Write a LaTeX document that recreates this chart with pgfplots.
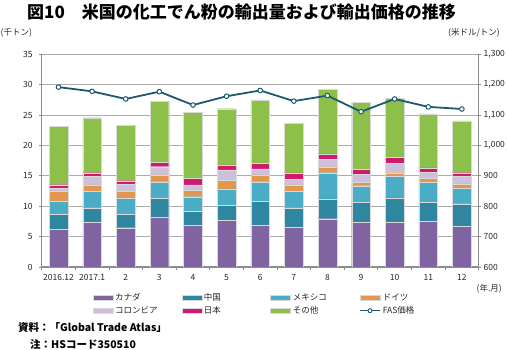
\documentclass[border=0pt]{standalone}
\usepackage{fontspec}
\setmainfont{Noto Sans CJK JP}
\usepackage{pgfplots}
\usepackage{pgfplotstable}
\pgfplotsset{compat=1.18}
\definecolor{cCan}{HTML}{8064A2}
\definecolor{cChn}{HTML}{2E86A0}
\definecolor{cMex}{HTML}{4BACC6}
\definecolor{cGer}{HTML}{E3964F}
\definecolor{cCol}{HTML}{CCC0DA}
\definecolor{cJpn}{HTML}{CF1A6E}
\definecolor{cOth}{HTML}{8DC04B}
\definecolor{cLine}{HTML}{1E5A6E}
\definecolor{cGrid}{HTML}{ABABAB}
\definecolor{cAxis}{HTML}{8C8C8C}

\pgfplotstableread{
x can chn mex ger col jpn oth
0  6.25 2.42 2.19 1.54 0.55 0.60 9.60
1  7.35 2.41 2.64 1.10 1.37 0.65 9.05
2  6.47 2.20 2.63 1.20 1.10 0.60 9.10
3  8.23 3.02 2.79 1.10 1.36 0.70 10.10
4  6.90 2.30 2.37 1.10 0.83 1.04 10.96
5  7.73 2.47 2.64 1.46 1.70 0.80 9.25
6  6.90 3.96 3.18 1.10 0.99 0.97 10.40
7  6.53 3.23 2.74 1.00 0.98 0.99 8.17
8  7.95 3.24 4.33 0.94 1.31 0.83 10.64
9  7.40 3.19 2.79 0.66 1.26 0.72 11.13
10 7.35 4.01 3.51 0.65 1.58 1.00 9.70
11 7.50 3.09 3.31 0.80 0.90 0.70 8.88
12 6.64 3.78 2.48 0.76 1.21 0.65 8.51
}\bars

\pgfplotstableread{
x fas
0  1192
1  1178
2  1153
3  1177
4  1133
5  1162
6  1181
7  1146
8  1164
9  1111
10 1153
11 1127
12 1120
}\fas

\pgfplotsset{
  common/.style={
    scale only axis, width=437bp, height=212.7bp,
    at={(0,0)}, anchor=south west,
    xmin=-0.5, xmax=12.5,
    /pgf/number format/assume math mode=true,
    tick label style={font=\fontsize{8.5bp}{10bp}\selectfont, text=black!85},
    axis line style={cAxis, line width=1.3bp},
    tick style={cAxis, line width=0.8bp},
    tick align=outside,
  },
  arealeg/.style={legend image code/.code={\fill[##1] (0bp,-2.6bp) rectangle (20bp,2.6bp);}},
  linleg/.style={legend image code/.code={\draw[##1, sharp plot, mark repeat=2, mark phase=2] plot coordinates {(0bp,0bp) (10bp,0bp) (20bp,0bp)};}},
}

\begin{document}
\begin{tikzpicture}
\useasboundingbox (-41.7bp,-83bp) rectangle (466.3bp,267bp);
\begin{axis}[common,
  ymin=0, ymax=35,
  ybar stacked, bar width=18.7bp,
  axis x line*=bottom, axis y line*=left,
  xtick={0,...,12},
  xticklabels={2016.12,2017.1,2,3,4,5,6,7,8,9,10,11,12},
  major x tick style={draw=none},
  minor xtick={-0.5,0.5,...,12.5},
  minor tick length=3bp,
  xticklabel style={yshift=-1bp},
  yticklabel style={xshift=-3bp},
  ytick={0,5,...,35},
  major tick length=2.5bp,
  ymajorgrids, grid style={cGrid, line width=0.9bp},
  every axis plot/.append style={draw=white!70!gray, line width=0.3bp},
  legend columns=4,
  legend style={at={(51bp,-24bp)}, anchor=north west, draw=none, fill=none,
    inner sep=0pt, font=\fontsize{8.5bp}{10bp}\selectfont, text=black!85,
    /tikz/every even column/.style={column sep=2bp},
    /tikz/every odd column/.style={column sep=0bp},
    row sep=0.5bp},
  legend cell align=left,
]
\addplot[fill=cCan, arealeg] table[x=x,y=can]{\bars};
\addplot[fill=cChn, arealeg] table[x=x,y=chn]{\bars};
\addplot[fill=cMex, arealeg] table[x=x,y=mex]{\bars};
\addplot[fill=cGer, arealeg] table[x=x,y=ger]{\bars};
\addplot[fill=cCol, arealeg] table[x=x,y=col]{\bars};
\addplot[fill=cJpn, arealeg] table[x=x,y=jpn]{\bars};
\addplot[fill=cOth, arealeg] table[x=x,y=oth]{\bars};
\addlegendimage{sharp plot, draw=cLine, fill=none, line width=1.6bp, mark=*, mark size=2bp, mark options={fill=white, draw=cLine, line width=0.9bp}, linleg}
\legend{\makebox[62.5bp][l]{カナダ},\makebox[62.5bp][l]{中国},\makebox[62.5bp][l]{メキシコ},\makebox[62.5bp][l]{ドイツ},
  \makebox[62.5bp][l]{コロンビア},\makebox[62.5bp][l]{日本},\makebox[62.5bp][l]{その他},\makebox[62.5bp][l]{FAS価格}}
\end{axis}
\begin{axis}[common,
  ymin=600, ymax=1300,
  axis x line=none, axis y line*=right,
  ytick={600,700,...,1300},
  major tick length=2.5bp,
  yticklabel style={/pgf/number format/1000 sep={,}, xshift=-1bp},
]
\addplot[cLine, line width=1.8bp, mark=*, mark size=2.3bp, mark options={fill=white, draw=cLine, line width=1bp}] table[x=x,y=fas]{\fas};
\end{axis}
\node[font=\bfseries\fontsize{17bp}{19bp}\selectfont] at (199.8bp,255.3bp) {図10　米国の化工でん粉の輸出量および輸出価格の推移};
\node[font=\fontsize{8.5bp}{10bp}\selectfont, text=black!85, anchor=west, inner sep=0pt] at (-41.2bp,234bp) {(千トン)};
\node[font=\fontsize{8.5bp}{10bp}\selectfont, text=black!85, anchor=east, inner sep=0pt] at (458.3bp,234bp) {(米ドル/トン)};
\node[font=\fontsize{8.5bp}{10bp}\selectfont, text=black!85, anchor=east, inner sep=0pt] at (460.3bp,-22bp) {(年.月)};
\node[font=\bfseries\fontsize{10.5bp}{12bp}\selectfont, anchor=west, inner sep=0pt] at (-23.7bp,-61bp) {資料：「Global Trade Atlas」};
\node[font=\bfseries\fontsize{10.5bp}{12bp}\selectfont, anchor=west, inner sep=0pt] at (-11.7bp,-77bp) {注：HSコード350510};
\end{tikzpicture}
\end{document}
